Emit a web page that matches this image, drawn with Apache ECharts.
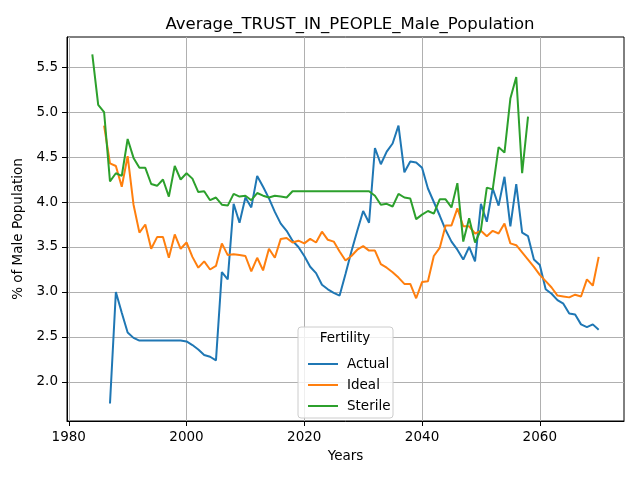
<!DOCTYPE html>
<html>
<head>
<meta charset="utf-8">
<script src="https://cdn.jsdelivr.net/npm/echarts@6/dist/echarts.min.js"></script>
<style>
  html, body { margin: 0; padding: 0; background: #fff; }
  #main { width: 640px; height: 480px; }
</style>
</head>
<body>
<div id="main"></div>
<script>
// tick labels
var xTicks = [1980, 2000, 2020, 2040, 2060];
var yTicks = [2.0, 2.5, 3.0, 3.5, 4.0, 4.5, 5.0, 5.5];

// series values, one per year from the start year
var actualStart = 1987;
var actual = [1.76, 3.00, 2.77, 2.55, 2.49, 2.46, 2.46, 2.46, 2.46, 2.46, 2.46, 2.46, 2.46,
    2.45, 2.41, 2.36, 2.30, 2.28, 2.24, 3.22, 3.14, 3.98, 3.77, 4.05, 3.94, 4.29, 4.17, 4.04,
    3.89, 3.76, 3.68, 3.57, 3.50, 3.40, 3.28, 3.21, 3.08, 3.03, 2.99, 2.96, 3.20, 3.45, 3.68,
    3.90, 3.77, 4.60, 4.42, 4.56, 4.65, 4.85, 4.33, 4.45, 4.44, 4.38, 4.15, 4.00, 3.85, 3.69,
    3.56, 3.47, 3.36, 3.50, 3.34, 3.98, 3.78, 4.15, 3.96, 4.28, 3.73, 4.20, 3.66, 3.62, 3.36,
    3.30, 3.03, 2.98, 2.91, 2.87, 2.76, 2.75, 2.64, 2.61, 2.64, 2.58];

var idealStart = 1986;
var ideal = [4.85, 4.43, 4.40, 4.17, 4.51, 3.97, 3.66, 3.75, 3.48, 3.61, 3.61, 3.38, 3.64, 3.48,
    3.55, 3.39, 3.27, 3.34, 3.25, 3.29, 3.54, 3.41, 3.42, 3.41, 3.40, 3.23, 3.38, 3.24, 3.48,
    3.38, 3.59, 3.60, 3.55, 3.57, 3.54, 3.59, 3.55, 3.67, 3.58, 3.56, 3.45, 3.35, 3.40, 3.47,
    3.51, 3.46, 3.46, 3.31, 3.27, 3.22, 3.16, 3.09, 3.09, 2.93, 3.11, 3.12, 3.40, 3.49, 3.74,
    3.74, 3.93, 3.73, 3.73, 3.65, 3.68, 3.62, 3.68, 3.65, 3.76, 3.54, 3.52, 3.44, 3.36, 3.28,
    3.19, 3.12, 3.05, 2.96, 2.95, 2.94, 2.97, 2.95, 3.14, 3.07, 3.39];

var sterileStart = 1984;
var sterile = [5.64, 5.08, 5.00, 4.23, 4.32, 4.29, 4.70, 4.49, 4.38, 4.38, 4.20, 4.18, 4.25, 4.06,
    4.40, 4.25, 4.32, 4.26, 4.11, 4.12, 4.02, 4.05, 3.97, 3.96, 4.09, 4.06, 4.07, 4.02, 4.10,
    4.07, 4.05, 4.07, 4.06, 4.05, 4.12, 4.12, 4.12, 4.12, 4.12, 4.12, 4.12, 4.12, 4.12, 4.12,
    4.12, 4.12, 4.12, 4.12, 4.07, 3.97, 3.98, 3.95, 4.09, 4.05, 4.04, 3.81, 3.86, 3.90, 3.87,
    4.03, 4.03, 3.94, 4.21, 3.56, 3.82, 3.55, 3.69, 4.16, 4.14, 4.61, 4.55, 5.15, 5.39, 4.32,
    4.95];

function pairs(start, vals) {
    return vals.map(function (v, i) { return [start + i, v]; });
}

var font = 'DejaVu Sans';
var myChart = echarts.init(document.getElementById('main'));

function line(name, color, data) {
    return {
        name: name,
        type: 'line',
        data: data,
        showSymbol: false,
        symbol: 'none',
        animation: false,
        lineStyle: { color: color, width: 2 },
        itemStyle: { color: color }
    };
}

var option = {
    animation: false,
    title: {
        text: 'Average_TRUST_IN_PEOPLE_Male_Population',
        left: 345,
        top: 11,
        textAlign: 'center',
        textStyle: { fontFamily: font, fontSize: 16.5, fontWeight: 'normal', color: '#000' }
    },
    grid: {
        left: 67, right: 16, top: 37, bottom: 59,
        show: true, borderColor: '#000', borderWidth: 1
    },
    xAxis: {
        type: 'value',
        min: 1979.7,
        max: 2074.3,
        name: 'Years',
        nameLocation: 'middle',
        nameGap: 28,
        nameTextStyle: { fontFamily: font, fontSize: 13.5, color: '#000' },
        axisLine: { show: true, lineStyle: { color: '#000', width: 1 } },
        axisTick: { show: true, length: 5, lineStyle: { color: '#000' }, customValues: xTicks },
        axisLabel: {
            margin: 9, fontFamily: font, fontSize: 13.5, color: '#000', customValues: xTicks,
            formatter: function (v) { return String(v); }
        },
        splitLine: { show: true, lineStyle: { color: '#b0b0b0', width: 1 }, customValues: xTicks }
    },
    yAxis: {
        type: 'value',
        min: 1.566,
        max: 5.834,
        name: '% of Male Population',
        nameLocation: 'middle',
        nameGap: 40,
        nameTextStyle: { fontFamily: font, fontSize: 13.5, color: '#000' },
        axisLine: { show: true, lineStyle: { color: '#000', width: 1 } },
        axisTick: { show: true, length: 5, lineStyle: { color: '#000' }, customValues: yTicks },
        axisLabel: {
            margin: 9, fontFamily: font, fontSize: 13.5, color: '#000', customValues: yTicks,
            formatter: function (v) { return v.toFixed(1); }
        },
        splitLine: { show: true, lineStyle: { color: '#b0b0b0', width: 1 }, customValues: yTicks }
    },
    legend: {
        orient: 'vertical',
        left: 303,
        top: 352,
        selectedMode: false,
        itemWidth: 30,
        itemHeight: 2,
        itemGap: 7,
        icon: 'rect',
        z: 10,
        textStyle: { fontFamily: font, fontSize: 13.5, color: '#000', padding: [0, 0, 0, 4] },
        data: ['Actual', 'Ideal', 'Sterile']
    },
    graphic: [
        {
            type: 'rect',
            z: 5,
            shape: { x: 298, y: 327, width: 95, height: 91, r: 3 },
            style: { fill: 'rgba(255,255,255,0.8)', stroke: '#cccccc', lineWidth: 1 }
        },
        {
            type: 'text',
            z: 6,
            x: 345,
            y: 338,
            style: {
                text: 'Fertility', fontFamily: font, fontSize: 13.5, fill: '#000',
                align: 'center', verticalAlign: 'middle'
            }
        }
    ],
    series: [
        line('Actual', '#1f77b4', pairs(actualStart, actual)),
        line('Ideal', '#ff7f0e', pairs(idealStart, ideal)),
        line('Sterile', '#2ca02c', pairs(sterileStart, sterile))
    ]
};
myChart.setOption(option);
</script>
</body>
</html>
